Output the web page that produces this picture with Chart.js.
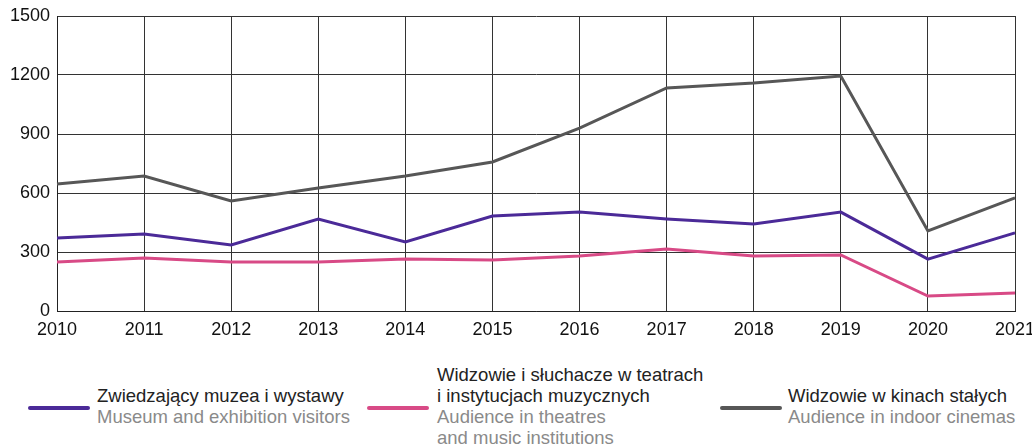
<!DOCTYPE html>
<html>
<head>
<meta charset="utf-8">
<script src="https://cdn.jsdelivr.net/npm/chart.js@4"></script>
<style>
  body { margin: 0; background: #fff; font-family: "Liberation Sans", Arial, sans-serif; }
  #wrap { position: relative; width: 1032px; height: 345px; }
  .leg { position: absolute; font-size: 18.5px; line-height: 21px; color: #222; white-space: nowrap; }
  .leg .en { color: #8a8a8a; }
  .sw { position: absolute; height: 4px; border-radius: 2px; }
</style>
</head>
<body>
<div id="wrap"><canvas id="chart"></canvas></div>

<div class="sw" style="left:28px; top:406px; width:62px; background:#4b2a98"></div>
<div class="leg" style="left:97px; top:385px">Zwiedzający muzea i wystawy<br><span class="en">Museum and exhibition visitors</span></div>

<div class="sw" style="left:367px; top:406px; width:62px; background:#d84a86"></div>
<div class="leg" style="left:437px; top:364px">Widzowie i słuchacze w teatrach<br>i instytucjach muzycznych<br><span class="en">Audience in theatres<br>and music institutions</span></div>

<div class="sw" style="left:720px; top:406px; width:62px; background:#575757"></div>
<div class="leg" style="left:788px; top:385px">Widzowie w kinach stałych<br><span class="en">Audience in indoor cinemas</span></div>

<script>
const years = ['2010', '2011', '2012', '2013', '2014', '2015', '2016', '2017', '2018', '2019', '2020', '2021'];
const museums = [371, 392, 336, 468, 351, 483, 503, 468, 442, 503, 264, 397];
const theatres = [249, 270, 249, 249, 264, 259, 280, 315, 280, 285, 76, 92];
const cinemas = [646, 686, 559, 625, 686, 758, 930, 1134, 1159, 1195, 407, 575];

const data = {
    labels: years,
    datasets: [
        { label: 'Zwiedzający muzea i wystawy', data: museums, borderColor: '#4b2a98' },
        { label: 'Widzowie i słuchacze w teatrach i instytucjach muzycznych', data: theatres, borderColor: '#d84a86' },
        { label: 'Widzowie w kinach stałych', data: cinemas, borderColor: '#575757' }
    ]
};

const tickFont = { size: 18, family: 'Liberation Sans' };

const config = {
    type: 'line',
    data: data,
    options: {
        responsive: false,
        animation: false,
        layout: { padding: { top: 16, right: 17, bottom: 2, left: 0 } },
        elements: {
            line: { borderWidth: 3, tension: 0 },
            point: { radius: 0 }
        },
        plugins: {
            legend: { display: false },
            tooltip: { enabled: false }
        },
        scales: {
            x: {
                offset: false,
                grid: { color: '#333', lineWidth: 1, drawTicks: false },
                border: { color: '#222' },
                ticks: { color: '#111', padding: 8, maxRotation: 0, autoSkip: false, font: tickFont },
                afterFit: function (scale) { scale.height = 32; scale.paddingRight = 0; scale.paddingLeft = 0; }
            },
            y: {
                min: 0,
                max: 1500,
                grid: { color: '#333', lineWidth: 1, drawTicks: false },
                border: { color: '#222' },
                ticks: {
                    stepSize: 300, color: '#111', padding: 7, font: tickFont,
                    callback: function (v) { return String(v); }
                },
                afterFit: function (scale) { scale.width = 57; scale.paddingTop = 0; scale.paddingBottom = 0; }
            }
        }
    }
};

const canvas = document.getElementById('chart');
canvas.width = 1032;
canvas.height = 345;
var chart = new Chart(canvas, config);
</script>
</body>
</html>
